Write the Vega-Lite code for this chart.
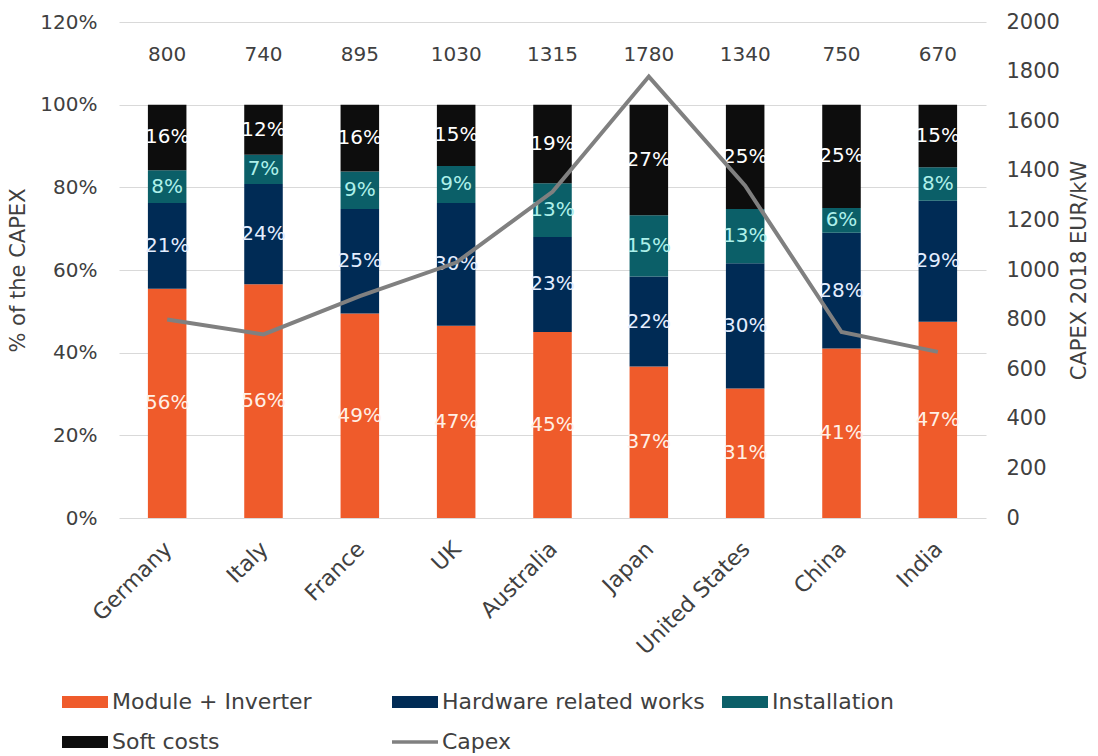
{
  "$schema": "https://vega.github.io/schema/vega-lite/v6.json",
  "width": 867,
  "height": 496,
  "autosize": {"type": "none"},
  "padding": {"left": 119, "top": 22, "right": 112, "bottom": 238},
  "config": {
    "font": "DejaVu Sans",
    "view": {"stroke": null},
    "axis": {"labelColor": "#404040", "titleColor": "#404040", "titleFontWeight": "normal", "ticks": false, "domain": false}
  },
  "datasets": {
    "shares": [
      {"country": "Germany", "component": "Module + Inverter", "share": 0.56},
      {"country": "Germany", "component": "Hardware related works", "share": 0.21},
      {"country": "Germany", "component": "Installation", "share": 0.08},
      {"country": "Germany", "component": "Soft costs", "share": 0.16},
      {"country": "Italy", "component": "Module + Inverter", "share": 0.56},
      {"country": "Italy", "component": "Hardware related works", "share": 0.24},
      {"country": "Italy", "component": "Installation", "share": 0.07},
      {"country": "Italy", "component": "Soft costs", "share": 0.12},
      {"country": "France", "component": "Module + Inverter", "share": 0.49},
      {"country": "France", "component": "Hardware related works", "share": 0.25},
      {"country": "France", "component": "Installation", "share": 0.09},
      {"country": "France", "component": "Soft costs", "share": 0.16},
      {"country": "UK", "component": "Module + Inverter", "share": 0.47},
      {"country": "UK", "component": "Hardware related works", "share": 0.30},
      {"country": "UK", "component": "Installation", "share": 0.09},
      {"country": "UK", "component": "Soft costs", "share": 0.15},
      {"country": "Australia", "component": "Module + Inverter", "share": 0.45},
      {"country": "Australia", "component": "Hardware related works", "share": 0.23},
      {"country": "Australia", "component": "Installation", "share": 0.13},
      {"country": "Australia", "component": "Soft costs", "share": 0.19},
      {"country": "Japan", "component": "Module + Inverter", "share": 0.37},
      {"country": "Japan", "component": "Hardware related works", "share": 0.22},
      {"country": "Japan", "component": "Installation", "share": 0.15},
      {"country": "Japan", "component": "Soft costs", "share": 0.27},
      {"country": "United States", "component": "Module + Inverter", "share": 0.31},
      {"country": "United States", "component": "Hardware related works", "share": 0.30},
      {"country": "United States", "component": "Installation", "share": 0.13},
      {"country": "United States", "component": "Soft costs", "share": 0.25},
      {"country": "China", "component": "Module + Inverter", "share": 0.41},
      {"country": "China", "component": "Hardware related works", "share": 0.28},
      {"country": "China", "component": "Installation", "share": 0.06},
      {"country": "China", "component": "Soft costs", "share": 0.25},
      {"country": "India", "component": "Module + Inverter", "share": 0.47},
      {"country": "India", "component": "Hardware related works", "share": 0.29},
      {"country": "India", "component": "Installation", "share": 0.08},
      {"country": "India", "component": "Soft costs", "share": 0.15}
    ],
    "capex": [
      {"country": "Germany", "capex": 800},
      {"country": "Italy", "capex": 740},
      {"country": "France", "capex": 895},
      {"country": "UK", "capex": 1030},
      {"country": "Australia", "capex": 1315},
      {"country": "Japan", "capex": 1780},
      {"country": "United States", "capex": 1340},
      {"country": "China", "capex": 750},
      {"country": "India", "capex": 670}
    ],
    "order": [
      {"component": "Module + Inverter", "rank": 1},
      {"component": "Hardware related works", "rank": 2},
      {"component": "Installation", "rank": 3},
      {"component": "Soft costs", "rank": 4}
    ]
  },
  "layer": [
    {
      "layer": [
        {
          "data": {"name": "shares"},
          "transform": [{"lookup": "component", "from": {"data": {"name": "order"}, "key": "component", "fields": ["rank"]}}],
          "mark": {"type": "bar"},
          "encoding": {
            "x": {
              "field": "country", "type": "nominal", "sort": null,
              "scale": {"paddingInner": 0.6, "paddingOuter": 0.3},
              "axis": {"title": null, "labelAngle": -45, "labelFontSize": 22, "labelPadding": 20, "labelOffset": -6}
            },
            "y": {
              "field": "share", "type": "quantitative", "stack": "normalize",
              "scale": {"domain": [0, 1.2]},
              "axis": {
                "title": "% of the CAPEX", "format": ".0%", "values": [0, 0.2, 0.4, 0.6, 0.8, 1, 1.2],
                "grid": true, "gridColor": "#d9d9d9", "labelFontSize": 20, "labelPadding": 22,
                "titleFontSize": 21, "titlePadding": 11
              }
            },
            "color": {
              "field": "component", "type": "nominal",
              "scale": {
                "domain": ["Module + Inverter", "Hardware related works", "Installation", "Soft costs", "Capex"],
                "range": ["#EF5B2B", "#002B55", "#0B5F68", "#0D0D0D", "#808080"]
              },
              "legend": {
                "title": null, "orient": "none", "legendX": -57, "legendY": 657,
                "columns": 3, "direction": "horizontal", "padding": 0, "gridAlign": "all",
                "symbolSize": 2116, "symbolStrokeWidth": 0, "labelFontSize": 22, "labelColor": "#404040",
                "labelOffset": 4, "columnPadding": 17, "rowPadding": 6, "labelLimit": 400,
                "encode": {
                  "symbols": {
                    "update": {
                      "shape": [
                        {"test": "datum.value === 'Capex'", "value": "M-1,-0.08H1V0.08H-1Z"},
                        {"value": "M-1,-0.26H1V0.26H-1Z"}
                      ],
                      "fill": {"scale": "color", "field": "value"},
                      "stroke": {"value": "transparent"},
                      "opacity": {"value": 1}
                    }
                  }
                }
              }
            },
            "order": {"field": "rank", "type": "quantitative"}
          }
        },
        {
          "data": {"name": "shares"},
          "transform": [
            {"lookup": "component", "from": {"data": {"name": "order"}, "key": "component", "fields": ["rank"]}},
            {"stack": "share", "groupby": ["country"], "sort": [{"field": "rank", "order": "ascending"}], "offset": "normalize", "as": ["lo", "hi"]},
            {"fold": ["lo", "hi"], "as": ["edge", "pos"]},
            {"aggregate": [{"op": "mean", "field": "pos", "as": "mid"}], "groupby": ["country", "component", "share"]}
          ],
          "mark": {"type": "text", "fontSize": 20, "baseline": "middle"},
          "encoding": {
            "x": {"field": "country", "type": "nominal", "sort": null},
            "y": {"field": "mid", "type": "quantitative"},
            "text": {"field": "share", "type": "quantitative", "format": ".0%"},
            "color": {
              "condition": [
                {"test": "datum.component === 'Installation'", "value": "#aef0ea"},
                {"test": "datum.component === 'Hardware related works'", "value": "#e4eeff"},
                {"test": "datum.component === 'Module + Inverter'", "value": "#fff0e6"}
              ],
              "value": "#ffffff"
            }
          }
        },
        {
          "data": {"name": "capex"},
          "mark": {"type": "text", "fontSize": 20, "color": "#404040", "baseline": "middle"},
          "encoding": {
            "x": {"field": "country", "type": "nominal", "sort": null},
            "y": {"datum": 1.12},
            "text": {"field": "capex", "type": "quantitative"}
          }
        }
      ]
    },
    {
      "data": {"name": "capex"},
      "mark": {"type": "line", "strokeWidth": 4},
      "encoding": {
        "x": {"field": "country", "type": "nominal", "sort": null},
        "y": {
          "field": "capex", "type": "quantitative",
          "scale": {"domain": [0, 2000]},
          "axis": {
            "orient": "right", "title": "CAPEX 2018 EUR/kW", "format": "d", "values": [0, 200, 400, 600, 800, 1000, 1200, 1400, 1600, 1800, 2000],
            "grid": false, "labelFontSize": 21, "labelPadding": 20, "titleFontSize": 21,
            "titleAngle": 270, "titleX": 82, "titleY": 248, "titleAlign": "center", "titleBaseline": "top"
          }
        },
        "color": {"datum": "Capex"}
      }
    }
  ],
  "resolve": {"scale": {"y": "independent"}}
}
